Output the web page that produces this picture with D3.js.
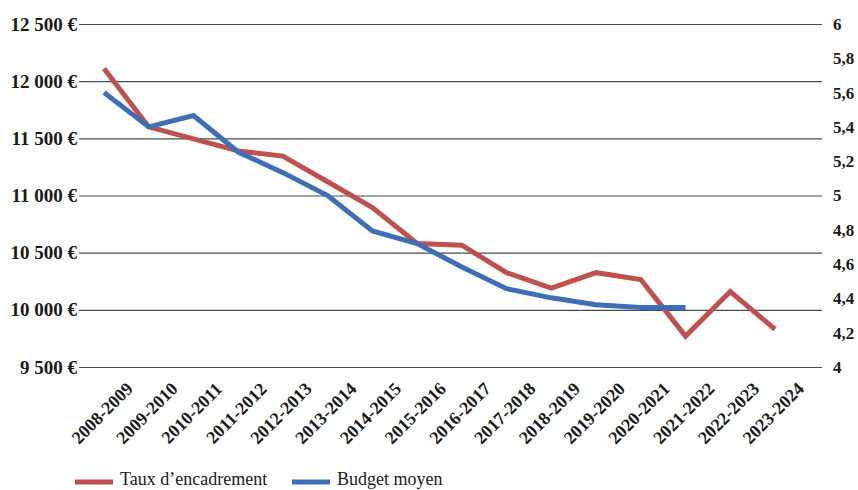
<!DOCTYPE html>
<html>
<head>
<meta charset="utf-8">
<script src="https://cdn.jsdelivr.net/npm/d3@7"></script>
<style>
  body { margin: 0; background: #fff; }
  text { font-family: "Liberation Serif", "DejaVu Serif", serif; }
</style>
</head>
<body>
<div id="chart"></div>
<script>
// data
var years = ["2008-2009", "2009-2010", "2010-2011", "2011-2012", "2012-2013", "2013-2014",
  "2014-2015", "2015-2016", "2016-2017", "2017-2018", "2018-2019", "2019-2020",
  "2020-2021", "2021-2022", "2022-2023", "2023-2024"];

// taux d'encadrement (right axis)
var taux = [5.74, 5.40, 5.33, 5.26, 5.23, 5.08, 4.93, 4.72, 4.71, 4.55, 4.46, 4.55,
  4.51, 4.18, 4.44, 4.22];

// budget moyen in euros (left axis), stops at 2021-2022
var budget = [11900, 11600, 11700, 11380, 11200, 11000, 10690, 10580, 10375, 10185,
  10105, 10045, 10020, 10020];

var leftTicks = [9500, 10000, 10500, 11000, 11500, 12000, 12500];
var rightTicks = [4, 4.2, 4.4, 4.6, 4.8, 5, 5.2, 5.4, 5.6, 5.8, 6];

var legendItems = ["Taux d\u2019encadrement", "Budget moyen"];

var svgWidth = 858;
var svgHeight = 490;

var margin = { top: 24, right: 36, bottom: 123, left: 79 };
var chartWidth = svgWidth - margin.left - margin.right;
var chartHeight = svgHeight - margin.top - margin.bottom;

var red = "#c0504d";
var blue = "#3d6fb8";

var svg = d3.select("#chart")
  .append("svg")
  .attr("width", svgWidth)
  .attr("height", svgHeight);

var chartGroup = svg.append("g")
  .attr("transform", `translate(${margin.left}, ${margin.top})`);

// scales
var x = d3.scalePoint()
  .domain(years)
  .range([25, 696]);

var yLeft = d3.scaleLinear()
  .domain([9500, 12500])
  .range([chartHeight, 0]);

var yRight = d3.scaleLinear()
  .domain([4, 6])
  .range([chartHeight, 0]);

// gridlines + left labels
var leftAxis = d3.axisLeft(yLeft)
  .tickValues(leftTicks)
  .tickSize(-chartWidth)
  .tickPadding(2)
  .tickFormat(d => d3.format(",")(d).replace(",", "\u00a0") + "\u00a0\u20ac");

var gl = chartGroup.append("g").call(leftAxis);
gl.select(".domain").remove();
gl.selectAll("line").attr("stroke", "#4a4a4a").attr("stroke-width", 1.2);
gl.selectAll("text")
  .attr("fill", "#1a1a1a")
  .style("font-size", "19px")
  .style("font-weight", "bold");

// right labels
var rightAxis = d3.axisRight(yRight)
  .tickValues(rightTicks)
  .tickSize(0)
  .tickPadding(11)
  .tickFormat(d => d3.format(".1f")(d).replace(".0", "").replace(".", ","));

var gr = chartGroup.append("g")
  .attr("transform", `translate(${chartWidth}, 0)`)
  .call(rightAxis);
gr.select(".domain").remove();
gr.selectAll("text")
  .attr("fill", "#1a1a1a")
  .style("font-size", "17px")
  .style("font-weight", "bold");

// x labels, rotated
chartGroup.append("g")
  .selectAll("text")
  .data(years)
  .enter()
  .append("text")
  .attr("transform", d => `translate(${x(d) - 2}, ${chartHeight + 46}) rotate(-45)`)
  .attr("text-anchor", "middle")
  .attr("dy", "0.35em")
  .attr("fill", "#1a1a1a")
  .style("font-size", "18px")
  .style("font-weight", "bold")
  .text(d => d);

// lines
var tauxLine = d3.line()
  .x((d, i) => x(years[i]))
  .y(d => yRight(d));

var budgetLine = d3.line()
  .x((d, i) => x(years[i]))
  .y(d => yLeft(d));

chartGroup.append("path")
  .datum(taux)
  .attr("d", tauxLine)
  .attr("fill", "none")
  .attr("stroke", red)
  .attr("stroke-width", 5);

chartGroup.append("path")
  .datum(budget)
  .attr("d", budgetLine)
  .attr("fill", "none")
  .attr("stroke", blue)
  .attr("stroke-width", 5);

// legend
var legend = svg.append("g").attr("transform", "translate(75, 482)");
var legendX = [0, 217];
var legendColors = [red, blue];

legendItems.forEach(function(name, i) {
  var g = legend.append("g").attr("transform", `translate(${legendX[i]}, 0)`);
  g.append("line")
    .attr("x1", 0).attr("x2", 38)
    .attr("y1", 0).attr("y2", 0)
    .attr("stroke", legendColors[i])
    .attr("stroke-width", 5);
  g.append("text")
    .attr("x", 45)
    .attr("y", 3)
    .attr("fill", "#1a1a1a")
    .style("font-size", "18px")
    .text(name);
});
</script>
</body>
</html>
